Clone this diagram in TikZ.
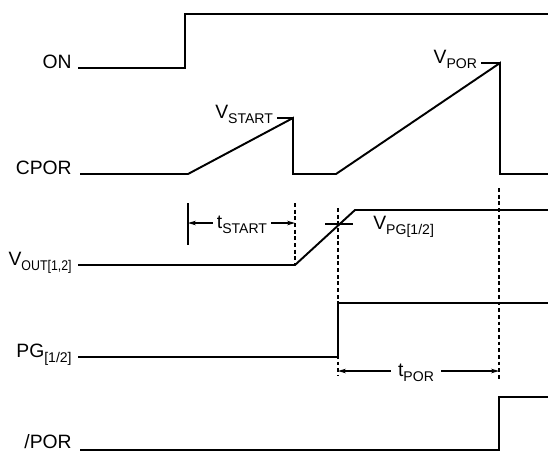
\documentclass[tikz,border=0pt]{standalone}
\usepackage{fontspec}
\setmainfont{Liberation Sans}
\usetikzlibrary{arrows.meta,positioning}
\newcommand{\subtxt}[1]{\raisebox{-3.2pt}{\fontsize{8}{9}\selectfont #1}}

\begin{document}
\begin{tikzpicture}[
    x=0.02cm, y=-0.02cm,
    every node/.style={font=\fontsize{11}{13}\selectfont, inner sep=0pt},
    signal/.style={line width=1.1pt, line join=miter},
    guide/.style={line width=1.1pt, dash pattern=on 2.2pt off 1.6pt},
    tick/.style={line width=0.6pt},
    dim/.style={-{Stealth[length=4.5pt,width=2.6pt]}, line width=0.6pt}
]
    \useasboundingbox (0,0) rectangle (548,451);

    % Signal names
    \node[anchor=base east] (on) at (72,68) {ON};
    \node[anchor=base east] (cpor) at (72,174) {CPOR};
    \node[anchor=base east] (vout) at (72,265) {V\subtxt{\scalebox{0.88}[1]{OUT[1,2]}}};
    \node[anchor=base east] (pg) at (72,357) {PG\subtxt{[1/2]}};
    \node[anchor=base east] (por) at (72,448) {/POR};

    % Waveforms
    \draw[signal] (78,68) -- (185,68) -- (185,14) -- (548,14);
    \draw[signal] (80,174) -- (188,174) -- (293,118) -- (293,174) -- (336,174)
        -- (500,63) -- (500,174) -- (548,174);
    \draw[signal] (78,265) -- (295,265) -- (355,210) -- (548,210);
    \draw[signal] (78,357) -- (338,357) -- (338,303) -- (548,303);
    \draw[signal] (80,450) -- (499,450) -- (499,397) -- (548,397);

    % Thresholds
    \coordinate (start-pk) at (293,118);
    \coordinate (por-pk) at (500,63);
    \draw[tick] (start-pk) -- ++(-16,0) node[anchor=base east, xshift=-2pt] (vstart) {V\subtxt{START}};
    \draw[tick] (por-pk) -- ++(-19,0) node[anchor=base east, xshift=-2pt] (vpor) {V\subtxt{POR}};
    \draw[tick] (325,224) -- (353,224);
    \node[anchor=base west] (vpg) at (373,229) {V\subtxt{PG[1/2]}};

    % Timing guides
    \draw[guide] (295,203) -- (295,265);
    \draw[guide] (338,208) -- (338,376);
    \draw[guide] (499,188) -- (499,380);
    \draw[line width=1.1pt] (188,203) -- (188,245);

    % Intervals
    \node[anchor=base] (tstart) at (242,228) {t\subtxt{START}};
    \draw[dim] (tstart.west |- 0,223) ++(-4,0) -- (188,223);
    \draw[dim] (tstart.east |- 0,223) ++(4,0) -- (295,223);
    \node[anchor=base] (tpor) at (416,376) {t\subtxt{POR}};
    \draw[dim] (tpor.west |- 0,371) ++(-7,0) -- (338,371);
    \draw[dim] (tpor.east |- 0,371) ++(7,0) -- (499,371);
\end{tikzpicture}
\end{document}
